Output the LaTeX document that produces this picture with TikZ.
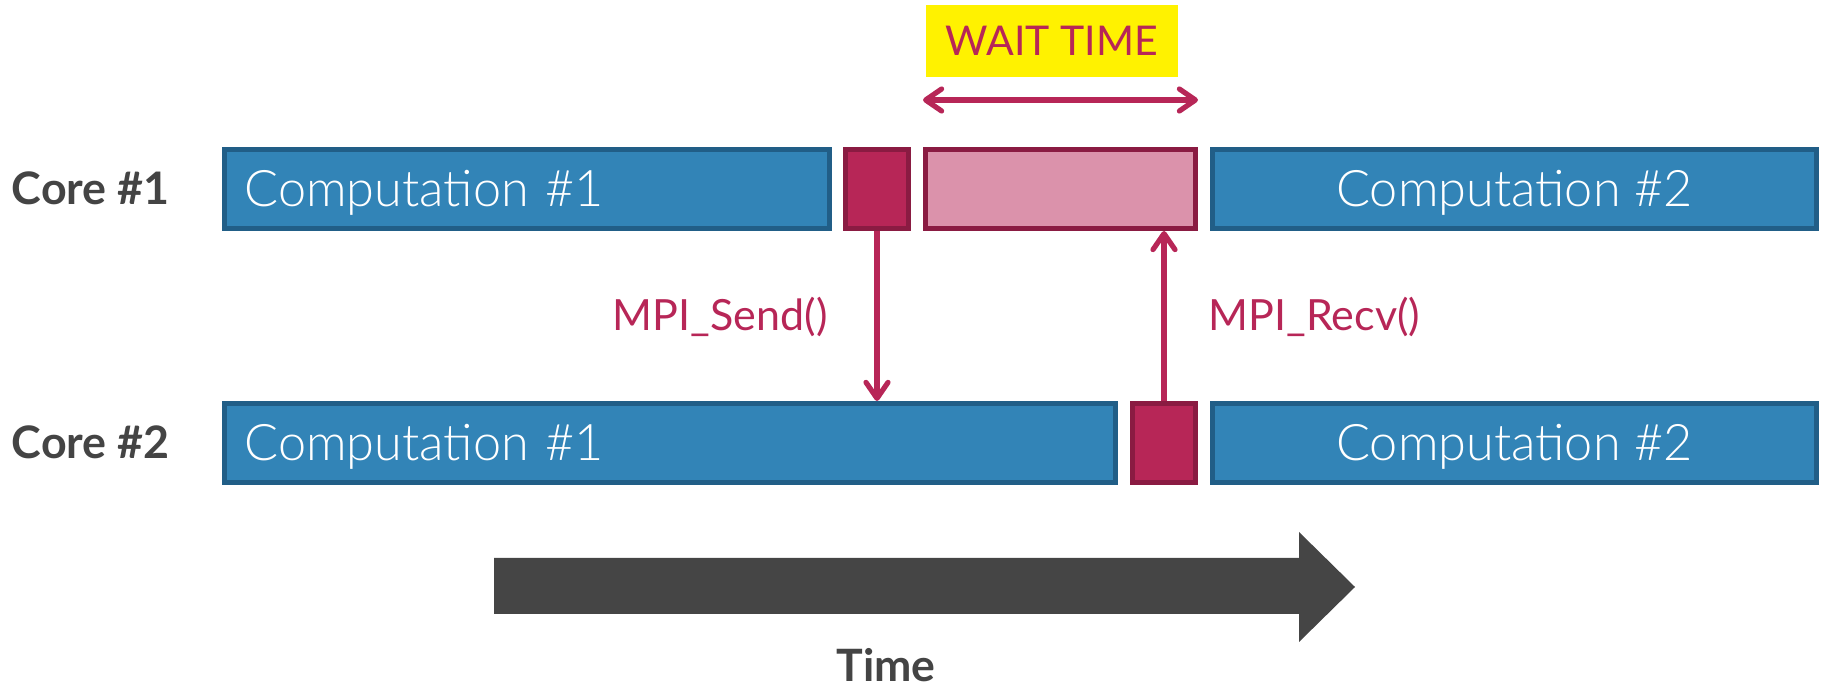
\documentclass[tikz,border=0pt]{standalone}
\usepackage{fontspec}
\setmainfont{Lato}
\newfontfamily\lightfont{Lato Light}
\usepackage{tikz}
\usetikzlibrary{arrows.meta,positioning}
\definecolor{compblue}{RGB}{50,132,183}
\definecolor{compedge}{RGB}{33,94,135}
\definecolor{mpired}{RGB}{183,38,87}
\definecolor{mpiedge}{RGB}{138,27,66}
\definecolor{txtgray}{RGB}{68,68,68}
\definecolor{timegray}{RGB}{69,69,69}

\begin{document}
\begin{tikzpicture}[x=0.5pt, y=-0.5pt, >={Straight Barb[length=8pt,width=11pt,round]},
    comp/.style={draw=compedge, fill=compblue, line width=2.5pt, minimum height=39.5pt,
      inner xsep=10pt, inner ysep=0pt, text=white, text height=17.5pt, text depth=0pt,
      font=\lightfont\fontsize{25.2}{29}\selectfont},
    call/.style={draw=mpiedge, fill=mpired, line width=2.5pt, minimum height=39.5pt,
      minimum width=31.5pt, inner sep=0pt},
    waitbox/.style={draw=mpiedge, fill=mpired!50!white, line width=2.5pt,
      minimum height=39.5pt, minimum width=135pt, inner sep=0pt},
    msg/.style={->, draw=mpired, line width=2.6pt},
    msglbl/.style={text=mpired, inner sep=0pt, text height=15pt, text depth=0pt,
      font=\fontsize{21.5}{25}\selectfont},
    corelbl/.style={text=txtgray, inner sep=0pt, text height=15.5pt, text depth=0pt,
      font=\bfseries\fontsize{22.4}{26}\selectfont}]
\useasboundingbox (0,0) rectangle (1826,688);

% core 1
\node[comp, minimum width=302.5pt, text width=282.5pt, align=left] (comp1a) at (527,189) {Computation \#1};
\node[call, right=5.5pt of comp1a] (send1) {};
\node[waitbox, right=6pt of send1] (wait) {};
\node[comp, minimum width=302pt, right=6pt of wait] (comp2a) {Computation \#2};

% core 2
\node[comp, minimum width=445.5pt, text width=425.5pt, align=left] (comp1b) at (670,443) {Computation \#1};
\node[call, right=6pt of comp1b] (recv2) {};
\node[comp, minimum width=302pt, right=6pt of recv2] (comp2b) {Computation \#2};

\node[corelbl, left=26pt of comp1a] (core1) {Core \#1};
\node[corelbl, left=26pt of comp1b] (core2) {Core \#2};

% messages
\draw[msg] (send1.south) -- (send1.south |- comp1b.north)
  node[msglbl, midway, left=23.5pt] (sendlbl) {MPI\_Send()};
\draw[msg] (recv2.north) -- (recv2.north |- wait.south)
  node[msglbl, midway, right=21pt] (recvlbl) {MPI\_Recv()};

% wait time
\node[fill=yellow, minimum width=126pt, minimum height=36pt, inner sep=0pt, text=mpired,
  text height=15pt, text depth=0pt, font=\fontsize{20.5}{24}\selectfont] (waitlbl) at (1052,41) {WAIT TIME};
\coordinate (waity) at (0,100);
\draw[msg, <->] (wait.north west |- waity) -- (wait.north east |- waity);

% time axis
\fill[timegray] (494,558) -- (1299,558) -- (1299,532) -- (1355,587) -- (1299,642)
  -- (1299,614) -- (494,614) -- cycle;
\node[text=txtgray, inner sep=0pt, text height=16pt, text depth=0pt,
  font=\bfseries\fontsize{22.3}{26}\selectfont] (timelbl) at (886,666) {Time};
\end{tikzpicture}
\end{document}
